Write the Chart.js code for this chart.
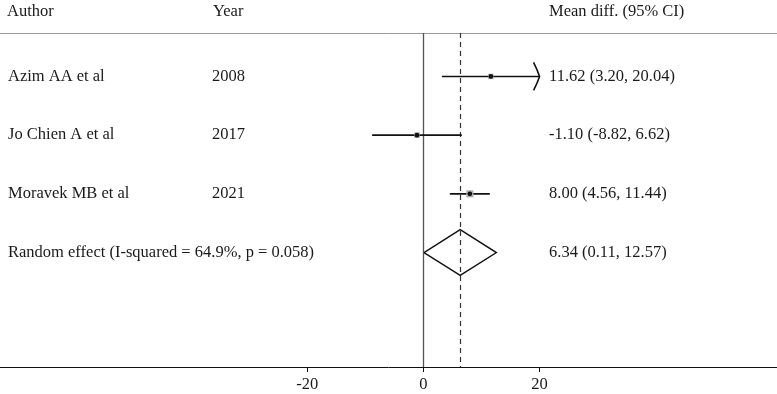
<!DOCTYPE html>
<html>
<head>
<meta charset="utf-8">
<script src="https://cdn.jsdelivr.net/npm/chart.js@4/dist/chart.umd.min.js"></script>
<style>
  html, body { margin: 0; padding: 0; background: #fff; }
  #wrap { width: 777px; height: 394px; }
</style>
</head>
<body>
<div id="wrap"><canvas id="forest"></canvas></div>
<script>
const authors = ['Azim AA et al', 'Jo Chien A et al', 'Moravek MB et al'];
const years = ['2008', '2017', '2021'];
const meanDiff = [11.62, -1.10, 8.00];
const ciLow = [3.20, -8.82, 4.56];
const ciHigh = [20.04, 6.62, 11.44];
const weights = [26.5, 28.4, 45.1];
const pooledLabel = 'Random effect (I-squared = 64.9%, p = 0.058)';
const pooled = [6.34, 0.11, 12.57];
const xTicks = [-20, 0, 20];
const headers = ['Author', 'Year', 'Mean diff. (95% CI)'];

const clipAt = 20;
const rows = [0.74, 1.74, 2.74];
const pooledRow = 3.74;
const fmt = v => v.toFixed(2);
const serif = '"Liberation Serif", "Times New Roman", serif';

const ciSets = authors.map((a, i) => ({
  type: 'line',
  data: [{x: ciLow[i], y: rows[i]}, {x: Math.min(ciHigh[i], clipAt), y: rows[i]}],
  borderColor: '#111',
  borderWidth: 1.6,
  pointRadius: 0
}));

const boxes = {
  type: 'scatter',
  data: meanDiff.map((m, i) => ({x: m, y: rows[i]})),
  pointStyle: 'rect',
  pointRadius: weights.map(w => Math.sqrt(w) * 0.75),
  backgroundColor: '#b0b0b0',
  borderWidth: 0
};

const dots = {
  type: 'scatter',
  data: meanDiff.map((m, i) => ({x: m, y: rows[i]})),
  pointRadius: 2.4,
  backgroundColor: '#111',
  borderWidth: 0
};

const diamond = {
  type: 'line',
  data: [
    {x: pooled[1], y: pooledRow},
    {x: pooled[0], y: pooledRow - 0.39},
    {x: pooled[2], y: pooledRow},
    {x: pooled[0], y: pooledRow + 0.39},
    {x: pooled[1], y: pooledRow}
  ],
  borderColor: '#111',
  borderWidth: 1.4,
  pointRadius: 0,
  tension: 0
};

const forestDecor = {
  id: 'forestDecor',
  beforeDatasetsDraw(chart) {
    const {ctx, chartArea, scales: {x}} = chart;
    ctx.save();
    ctx.lineWidth = 1;
    // top rule
    ctx.strokeStyle = '#9a9a9a';
    ctx.beginPath();
    ctx.moveTo(0, chartArea.top + 0.5);
    ctx.lineTo(chart.width, chartArea.top + 0.5);
    ctx.stroke();
    // bottom axis line across full width
    ctx.strokeStyle = '#111';
    ctx.beginPath();
    ctx.moveTo(0, chartArea.bottom + 0.5);
    ctx.lineTo(chart.width, chartArea.bottom + 0.5);
    ctx.stroke();
    // no-effect line
    const x0 = Math.round(x.getPixelForValue(0)) + 0.5;
    ctx.strokeStyle = '#555';
    ctx.lineWidth = 1.3;
    ctx.beginPath();
    ctx.moveTo(x0, chartArea.top);
    ctx.lineTo(x0, chartArea.bottom);
    ctx.stroke();
    // pooled estimate line
    const xp = Math.round(x.getPixelForValue(pooled[0])) + 0.5;
    ctx.strokeStyle = '#333';
    ctx.lineWidth = 1.2;
    ctx.setLineDash([5, 4]);
    ctx.beginPath();
    ctx.moveTo(xp, chartArea.top);
    ctx.lineTo(xp, chartArea.bottom);
    ctx.stroke();
    ctx.restore();
  },
  afterDatasetsDraw(chart) {
    const {ctx, scales: {x, y}} = chart;
    ctx.save();
    // arrow where CI is clipped
    ciHigh.forEach((h, i) => {
      if (h <= clipAt) return;
      const px = x.getPixelForValue(clipAt);
      const py = y.getPixelForValue(rows[i]);
      ctx.strokeStyle = '#111';
      ctx.lineWidth = 1.6;
      ctx.beginPath();
      ctx.moveTo(px - 6, py - 14);
      ctx.quadraticCurveTo(px - 2, py - 6, px, py);
      ctx.quadraticCurveTo(px - 2, py + 6, px - 6, py + 14);
      ctx.stroke();
    });
    // text columns
    ctx.fillStyle = '#1a1a1a';
    ctx.font = '16.5px ' + serif;
    ctx.textBaseline = 'middle';
    ctx.textAlign = 'left';
    ctx.fillText(headers[0], 7, 12);
    ctx.fillText(headers[1], 213, 12);
    ctx.fillText(headers[2], 549, 12);
    authors.forEach((a, i) => {
      const py = y.getPixelForValue(rows[i]);
      ctx.fillText(a, 8, py);
      ctx.fillText(years[i], 212, py);
      ctx.fillText(fmt(meanDiff[i]) + ' (' + fmt(ciLow[i]) + ', ' + fmt(ciHigh[i]) + ')', 549, py);
    });
    const pp = y.getPixelForValue(pooledRow);
    ctx.fillText(pooledLabel, 8, pp);
    ctx.fillText(fmt(pooled[0]) + ' (' + fmt(pooled[1]) + ', ' + fmt(pooled[2]) + ')', 549, pp);
    ctx.restore();
  }
};

new Chart(document.getElementById('forest'), {
  // first dataset is drawn last, so dots sit on top of the boxes
  data: {datasets: [dots, boxes, ...ciSets, diamond]},
  options: {
    responsive: true,
    maintainAspectRatio: false,
    animation: false,
    layout: {padding: {top: 33, left: 0, right: 0, bottom: 0}},
    plugins: {legend: {display: false}, tooltip: {enabled: false}},
    scales: {
      x: {
        type: 'linear',
        min: -72,
        max: 60,
        afterBuildTicks: s => { s.ticks = xTicks.map(v => ({value: v})); },
        afterFit: s => { s.height = 27; },
        grid: {drawOnChartArea: false, drawTicks: true, tickLength: 5, color: '#111'},
        border: {display: false},
        ticks: {
          color: '#1a1a1a',
          padding: 3,
          maxRotation: 0,
          font: {family: serif, size: 16.5}
        }
      },
      y: {
        type: 'linear',
        reverse: true,
        min: 0,
        max: 5.69,
        display: false
      }
    }
  },
  plugins: [forestDecor]
});
</script>
</body>
</html>
